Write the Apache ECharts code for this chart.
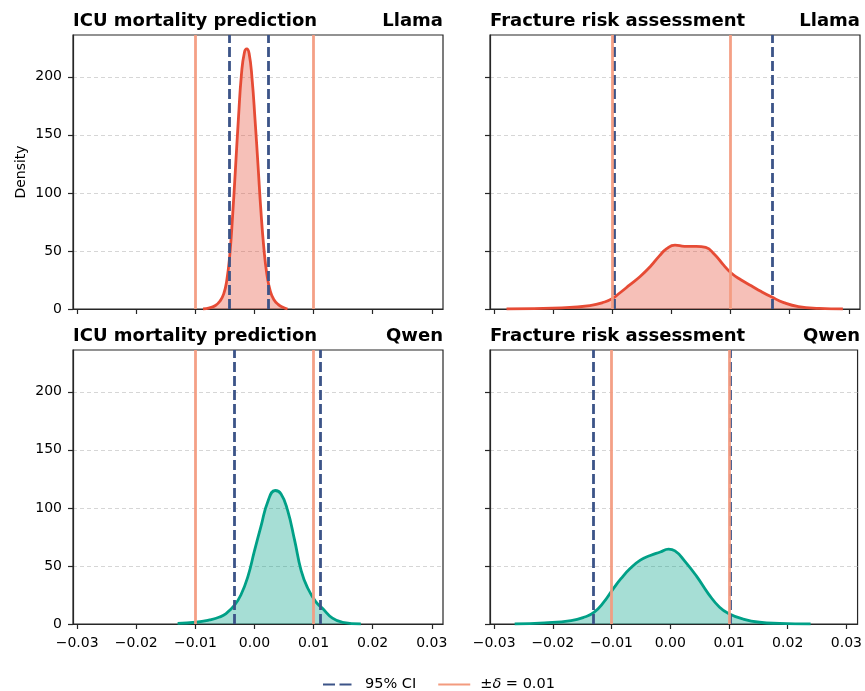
<!DOCTYPE html>
<html>
<head>
<meta charset="utf-8">
<script src="https://cdn.jsdelivr.net/npm/echarts@6/dist/echarts.min.js"></script>
<style>
    html, body {margin: 0; padding: 0; background: #fff;}
    #chart {width: 865px; height: 691px;}
</style>
</head>
<body>
<div id="chart"></div>
<script>
// KDE curves: [difference, density]
var icuLlama = [[-0.0087, 0], [-0.0076, 1], [-0.0066, 3], [-0.0058, 7], [-0.0052, 13], [-0.0047, 24], [-0.0042, 45],
    [-0.0037, 80], [-0.0032, 122], [-0.0027, 165], [-0.0022, 202], [-0.0017, 221], [-0.0013, 224], [-0.0009, 220],
    [-0.0004, 198], [0.0001, 163], [0.0006, 124], [0.0011, 84], [0.0016, 52], [0.0021, 30], [0.0027, 15],
    [0.0033, 8], [0.0040, 4], [0.0048, 1.5], [0.0056, 0]];
var fractureLlama = [[-0.0279, 0], [-0.0186, 1], [-0.0138, 3], [-0.0113, 6], [-0.0100, 9], [-0.0087, 14], [-0.0070, 21],
    [-0.0053, 28], [-0.0035, 37], [-0.0020, 46], [-0.0008, 52], [0.0006, 55], [0.0022, 54], [0.0042, 54], [0.0058, 53],
    [0.0073, 47], [0.0088, 38], [0.0101, 31], [0.0118, 25], [0.0135, 20], [0.0152, 15], [0.0169, 10.5], [0.0190, 5.5],
    [0.0215, 2], [0.0250, 0.5], [0.0290, 0]];
var icuQwen = [[-0.0130, 0.5], [-0.0099, 1.5], [-0.0076, 3.5], [-0.0059, 6], [-0.0048, 9], [-0.0034, 16], [-0.0023, 25],
    [-0.0011, 41], [0, 63], [0.0011, 84], [0.0023, 106], [0.0035, 115], [0.0045, 112], [0.0056, 98], [0.0068, 72],
    [0.0079, 46], [0.0090, 31], [0.0104, 19], [0.0115, 13.5], [0.0132, 5], [0.0149, 1.5], [0.0180, 0]];
var fractureQwen = [[-0.0265, 0], [-0.0214, 1], [-0.0169, 3], [-0.0146, 6], [-0.0130, 10], [-0.0113, 19], [-0.0099, 29],
    [-0.0084, 39], [-0.0068, 48], [-0.0051, 55], [-0.0034, 59], [-0.0017, 62], [-0.0003, 64.5], [0.0008, 63],
    [0.0025, 54], [0.0045, 41], [0.0065, 26], [0.0084, 14.5], [0.0101, 8.7], [0.0124, 4.3], [0.0152, 1.5],
    [0.0186, 0.5], [0.0239, 0]];

// 95% CI bounds per panel
var ciIcuLlama = [-0.0042, 0.0023];
var ciFractureLlama = [-0.0097, 0.0170];
var ciIcuQwen = [-0.0034, 0.0112];
var ciFractureQwen = [-0.0132, 0.0102];
var delta = 0.01;

var xTicks = [-0.03, -0.02, -0.01, 0, 0.01, 0.02, 0.03];
var yTicks = [0, 50, 100, 150, 200];

var panels = [
    {task: 'ICU mortality prediction', model: 'Llama', data: icuLlama, ci: ciIcuLlama, color: '#E64B35', fill: 'rgba(230,75,53,0.35)'},
    {task: 'Fracture risk assessment', model: 'Llama', data: fractureLlama, ci: ciFractureLlama, color: '#E64B35', fill: 'rgba(230,75,53,0.35)'},
    {task: 'ICU mortality prediction', model: 'Qwen', data: icuQwen, ci: ciIcuQwen, color: '#00A087', fill: 'rgba(0,160,135,0.35)'},
    {task: 'Fracture risk assessment', model: 'Qwen', data: fractureQwen, ci: ciFractureQwen, color: '#00A087', fill: 'rgba(0,160,135,0.35)'}
];

var font = 'DejaVu Sans';
var frame = '#262626';
var ciColor = '#3C5488';
var deltaColor = '#F39B7F';

var grids = [], xAxes = [], yAxes = [], titles = [], seriesList = [];
for (var i = 0; i < panels.length; i++) {
    var p = panels[i];
    var col = i % 2, row = Math.floor(i / 2);
    var gridLeft = col === 0 ? 73 : 490;
    var gridTop = row === 0 ? 35 : 350;
    grids.push({left: gridLeft, top: gridTop, width: 370, height: 274, show: true, borderColor: frame, borderWidth: 1.2, backgroundColor: 'transparent'});

    titles.push({text: p.task, left: gridLeft, top: gridTop - 23, padding: 0, textStyle: {fontFamily: font, fontSize: 18, fontWeight: 'bold', color: '#000'}});
    titles.push({text: p.model, right: col === 0 ? 422 : 5, top: gridTop - 23, padding: 0, textStyle: {fontFamily: font, fontSize: 18, fontWeight: 'bold', color: '#000'}});

    var xa = {
        gridIndex: i, type: 'value', min: -0.0307, max: 0.0319,
        axisLine: {show: true, onZero: false, lineStyle: {color: frame, width: 1.2}},
        axisTick: {show: true, customValues: xTicks.slice(), length: 5, lineStyle: {color: frame, width: 1.2}},
        axisLabel: {
            show: row === 1, customValues: xTicks.slice(), margin: 12, fontFamily: font, fontSize: 14, color: '#000',
            formatter: function (v) {
                var s = Math.abs(v) < 1e-9 ? '0.00' : v.toFixed(2);
                return s.replace('-', '\u2212');
            }
        },
        splitLine: {show: false}
    };
    var ya = {
        gridIndex: i, type: 'value', min: 0, max: 236, interval: 50,
        axisLine: {show: true, onZero: false, lineStyle: {color: frame, width: 1.2}},
        axisTick: {show: true, customValues: yTicks.slice(), length: 5, lineStyle: {color: frame, width: 1.2}},
        axisLabel: {show: col === 0, customValues: yTicks.slice(), margin: 11, fontFamily: font, fontSize: 14, color: '#000'},
        splitLine: {show: true, lineStyle: {color: '#cccccc', width: 1, type: [4, 3], opacity: 0.8}}
    };
    if (i === 0) {
        ya.name = 'Density';
        ya.nameLocation = 'middle';
        ya.nameGap = 45;
        ya.nameTextStyle = {fontFamily: font, fontSize: 14, color: '#000'};
    }
    xAxes.push(xa);
    yAxes.push(ya);

    seriesList.push({
        type: 'line', xAxisIndex: i, yAxisIndex: i, data: p.data,
        smooth: 0.5, symbol: 'none', z: 3,
        lineStyle: {color: p.color, width: 2.8},
        itemStyle: {color: p.color},
        areaStyle: {color: p.fill, opacity: 1}
    });
    seriesList.push({
        name: '95% CI', type: 'line', xAxisIndex: i, yAxisIndex: i, data: [], symbol: 'none', z: 4,
        lineStyle: {color: ciColor, width: 2.8, type: [10, 4]},
        itemStyle: {color: ciColor},
        markLine: {
            silent: true, symbol: 'none', precision: 6, label: {show: false},
            lineStyle: {color: ciColor, width: 2.8, type: [10, 4]},
            data: [{xAxis: p.ci[0]}, {xAxis: p.ci[1]}]
        }
    });
    seriesList.push({
        name: '±δ = 0.01', type: 'line', xAxisIndex: i, yAxisIndex: i, data: [], symbol: 'none', z: 5,
        lineStyle: {color: deltaColor, width: 2.8},
        itemStyle: {color: deltaColor},
        markLine: {
            silent: true, symbol: 'none', precision: 6, label: {show: false},
            lineStyle: {color: deltaColor, width: 2.8, type: 'solid', opacity: 0.95},
            data: [{xAxis: -delta}, {xAxis: delta}]
        }
    });
}

var chart = echarts.init(document.getElementById('chart'));
var chartOption = {
    animation: false,
    backgroundColor: '#fff',
    title: titles,
    legend: {
        data: [{name: '95% CI', lineStyle: {type: [12, 4.5]}}, {name: '±δ = 0.01'}],
        left: 322, top: 677, padding: 0,
        itemWidth: 32, itemHeight: 14, itemGap: 21,
        itemStyle: {color: 'transparent', borderWidth: 0, opacity: 0},
        textStyle: {
            fontFamily: font, fontSize: 14.5, color: '#000',
            rich: {
                p: {fontFamily: font, fontSize: 14.5, color: '#000', padding: [0, 0, 0, 5]},
                n: {fontFamily: font, fontSize: 14.5, color: '#000'},
                i: {fontFamily: font, fontSize: 14.5, fontStyle: 'italic', color: '#000'}
            }
        },
        formatter: function (name) {
            return name === '±δ = 0.01' ? '{p|±}{i|δ}{n| = 0.01}' : '{p|' + name + '}';
        }
    },
    grid: grids,
    xAxis: xAxes,
    yAxis: yAxes,
    series: seriesList
};
chart.setOption(chartOption);
</script>
</body>
</html>
